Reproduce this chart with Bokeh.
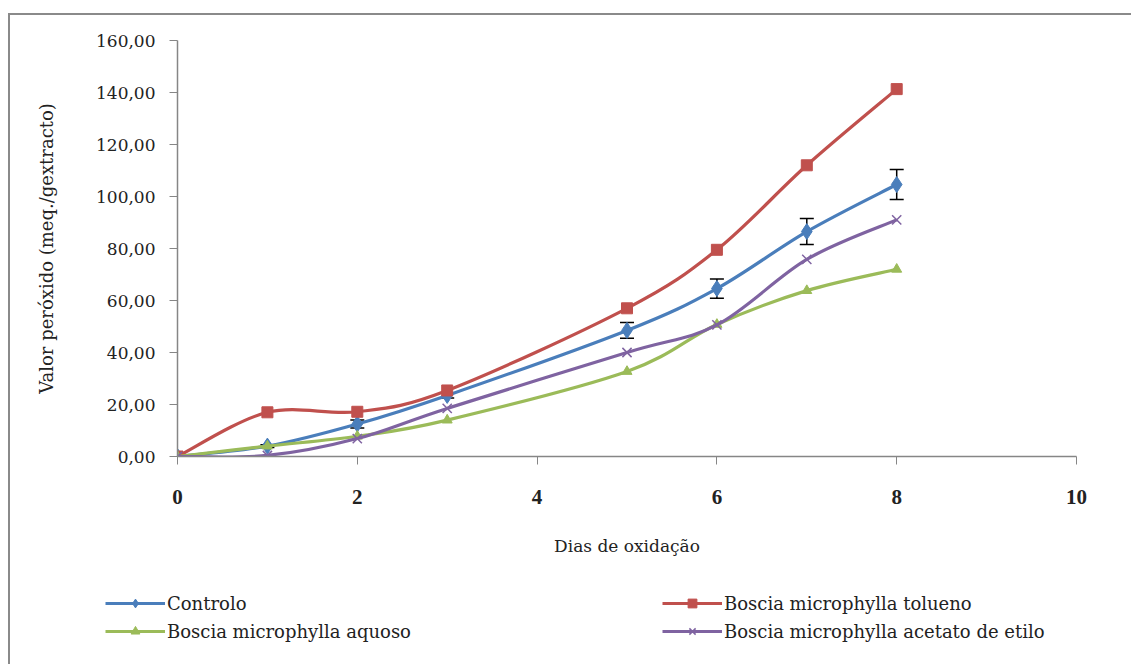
from bokeh.plotting import figure
from bokeh.layouts import column
from bokeh.models import (ColumnDataSource, Whisker, TeeHead, Legend, LegendItem,
                          FixedTicker, CustomJSTickFormatter, Range1d)
from bokeh.embed import file_html
from bokeh.resources import INLINE

days = [0, 1, 2, 3, 5, 6, 7, 8]
controlo = [0.0, 4.0, 12.5, 23.5, 48.5, 64.6, 86.5, 104.6]
controlo_err = [0.0, 0.5, 1.5, 1.0, 3.0, 3.7, 5.0, 5.8]
tolueno = [0.0, 17.0, 17.2, 25.4, 57.0, 79.5, 112.0, 141.3]
aquoso = [0.0, 4.0, 7.8, 14.0, 32.7, 50.8, 63.8, 72.0]
acetato = [0.0, 0.4, 6.9, 18.5, 40.0, 50.6, 75.8, 91.0]

names = ["Controlo", "Boscia microphylla tolueno", "Boscia microphylla aquoso",
         "Boscia microphylla acetato de etilo"]
colors = ["#4A7EBB", "#C0504D", "#9BBB59", "#7F63A1"]
markers = ["diamond", "square", "triangle", "x"]
msizes = [16, 11, 10, 13]
series = [controlo, tolueno, aquoso, acetato]

FONT = "DejaVu Serif"
BFONT = "Liberation Serif"

OX, OY = 10, 15            # offset of the drawing inside the grey border
W, H = 1131 - OX, 664 - OY
FL, FR, FT, FB = 177 - OX, 1076 - OX, 40 - OY, 456 - OY
PH = 575 - OY              # height of chart part
LH = H - PH                # height of legend strip

p = figure(width=W, height=PH, output_backend="svg", toolbar_location=None,
           x_range=Range1d(0, 10), y_range=Range1d(0, 160),
           min_border_left=FL, min_border_right=W - FR,
           min_border_top=FT, min_border_bottom=PH - FB)
p.outline_line_color = None
p.xgrid.visible = False
p.ygrid.visible = False
p.frame_align = False


def smooth(xs, ys):
    n = len(xs)
    out = dict(x0=[], y0=[], x1=[], y1=[], cx0=[], cy0=[], cx1=[], cy1=[])
    for i in range(n - 1):
        xp = xs[i - 1] if i > 0 else xs[i]
        yp = ys[i - 1] if i > 0 else ys[i]
        xn = xs[i + 2] if i + 2 < n else xs[i + 1]
        yn = ys[i + 2] if i + 2 < n else ys[i + 1]
        out["x0"].append(xs[i]); out["y0"].append(ys[i])
        out["x1"].append(xs[i + 1]); out["y1"].append(ys[i + 1])
        out["cx0"].append(xs[i] + (xs[i + 1] - xp) / 6.0)
        out["cy0"].append(ys[i] + (ys[i + 1] - yp) / 6.0)
        out["cx1"].append(xs[i + 1] - (xn - xs[i]) / 6.0)
        out["cy1"].append(ys[i + 1] - (yn - ys[i]) / 6.0)
    return out


# legend strip figure
lf = figure(width=W, height=LH, output_backend="svg", toolbar_location=None,
            x_range=Range1d(0, 1), y_range=Range1d(0, 1),
            min_border_left=0, min_border_right=0, min_border_top=0,
            min_border_bottom=0)
lf.axis.visible = False
lf.grid.visible = False
lf.outline_line_color = None
lf.frame_align = False

items = []
for name, col, mk, ms, ys in zip(names, colors, markers, msizes, series):
    src = ColumnDataSource(smooth(days, ys))
    p.bezier(x0="x0", y0="y0", x1="x1", y1="y1", cx0="cx0", cy0="cy0",
             cx1="cx1", cy1="cy1", source=src, line_color=col, line_width=3.2)
    if mk == "x":
        p.scatter(days, ys, marker=mk, size=ms, line_color=col, line_width=1.5)
        lsc = lf.scatter([-5], [-5], marker=mk, size=ms, line_color=col, line_width=1.5)
    else:
        p.scatter(days, ys, marker=mk, size=ms, fill_color=col, line_color=col)
        lsc = lf.scatter([-5], [-5], marker=mk, size=ms, fill_color=col, line_color=col)
    lln = lf.line([-5, -6], [-5, -6], line_color=col, line_width=3.2)
    items.append(LegendItem(label=name, renderers=[lln, lsc]))

upper = [v + e for v, e in zip(controlo, controlo_err)]
lower = [v - e for v, e in zip(controlo, controlo_err)]
esrc = ColumnDataSource(dict(x=days, up=upper, lo=lower))
wh = Whisker(base="x", upper="up", lower="lo", source=esrc,
             line_color="black", line_width=1.5,
             upper_head=TeeHead(size=14, line_color="black", line_width=1.5),
             lower_head=TeeHead(size=14, line_color="black", line_width=1.5))
p.add_layout(wh)

fmt = CustomJSTickFormatter(code="return tick.toFixed(2).replace('.', ',');")
p.yaxis.ticker = FixedTicker(ticks=[0, 20, 40, 60, 80, 100, 120, 140, 160])
p.yaxis.formatter = fmt
p.xaxis.ticker = FixedTicker(ticks=[0, 2, 4, 6, 8, 10])

for ax in (p.xaxis[0], p.yaxis[0]):
    ax.axis_line_color = "#868686"
    ax.axis_line_width = 1.5
    ax.major_tick_line_color = "#868686"
    ax.major_tick_in = 0
    ax.major_tick_out = 8
    ax.minor_tick_line_color = None
    ax.major_label_text_font = FONT
    ax.axis_label_text_font = FONT
    ax.axis_label_text_font_style = "normal"
    ax.major_label_text_color = "#222222"
    ax.axis_label_text_color = "#222222"

p.yaxis.major_label_text_font_size = "17px"
p.yaxis.major_label_standoff = 14
p.yaxis.axis_label = "Valor peróxido (meq./gextracto)"
p.yaxis.axis_label_text_font_size = "18px"
p.yaxis.axis_label_standoff = 36

p.xaxis.major_label_text_font = BFONT
p.xaxis.major_label_text_font_size = "21px"
p.xaxis.major_label_text_font_style = "bold"
p.xaxis.major_label_standoff = 25
p.xaxis.axis_label = "Dias de oxidação"
p.xaxis.axis_label_text_font_size = "17px"
p.xaxis.axis_label_standoff = 29

for idx, lx in enumerate([105 - OX, 662 - OX]):
    lg = Legend(items=[items[idx], items[idx + 2]], location=(lx, 664 - 642),
                orientation="vertical", glyph_width=60, glyph_height=22,
                label_text_font=FONT, label_text_font_size="18px",
                label_standoff=2, spacing=6, padding=0, margin=0,
                border_line_color=None, background_fill_alpha=0,
                label_text_color="#222222", label_height=22)
    lf.add_layout(lg, "center")

layout = column(p, lf, spacing=0,
                styles={"margin-left": "8px", "margin-top": "13px",
                        "border-left": "2px solid #8a8a8a",
                        "border-top": "2px solid #8a8a8a"})

open("out.html", "w").write(file_html(layout, INLINE))
